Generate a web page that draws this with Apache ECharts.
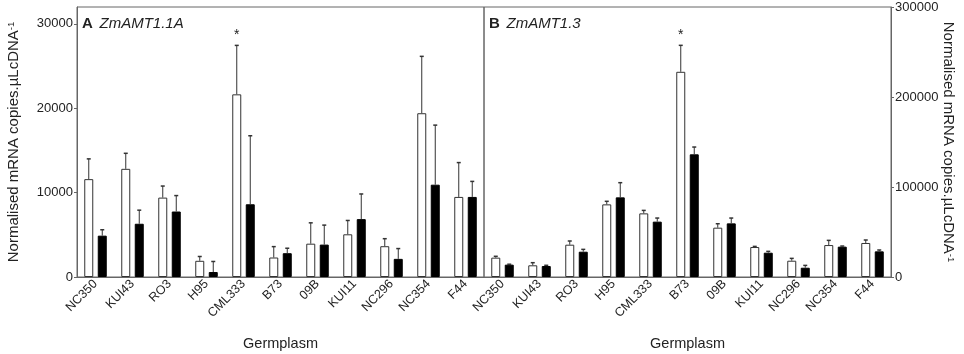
<!DOCTYPE html>
<html>
<head>
<meta charset="utf-8">
<script src="https://cdn.jsdelivr.net/npm/echarts@6/dist/echarts.min.js"></script>
<style>
  html, body { margin: 0; padding: 0; background: #fff; }
  #chart { width: 964px; height: 354px; }
</style>
</head>
<body>
<div id="chart"></div>
<script>
const categories = ['NC350', 'KUI43', 'RO3', 'H95', 'CML333', 'B73', '09B', 'KUI11', 'NC296', 'NC354', 'F44'];

// panel A: ZmAMT1.1A
const aWhite    = [11600, 12820, 9410, 1920, 21650, 2310, 3950, 5060, 3650, 19410, 9490];
const aWhiteErr = [2400, 1840, 1370, 510, 5800, 1290, 2470, 1640, 890, 6740, 4070];
const aBlack    = [4900, 6310, 7760, 590, 8620, 2820, 3840, 6860, 2150, 10940, 9490];
const aBlackErr = [700, 1610, 1890, 1250, 8120, 590, 2310, 2980, 1220, 7060, 1840];
const aStar     = ['CML333'];

// panel B: ZmAMT1.3
const bWhite    = [21500, 13000, 35900, 80700, 70700, 228000, 54800, 33300, 18100, 35500, 37800];
const bWhiteErr = [1500, 2900, 4100, 3400, 3300, 29400, 4400, 700, 2600, 5200, 3300];
const bBlack    = [13700, 12200, 28100, 88500, 61500, 136300, 59600, 27000, 10300, 33700, 28500];
const bBlackErr = [500, 800, 2600, 16300, 4000, 8100, 5900, 1500, 2600, 700, 1500];
const bStar     = ['B73'];

const aTicks = [0, 10000, 20000, 30000];
const bTicks = [0, 100000, 200000, 300000];

const lineCol = '#666';
const textCol = '#222';
const font = 'Liberation Sans, Arial, sans-serif';
const barW = 9;
const shift = 6.75;

function errData(means, errs, dir, stars) {
    return means.map((m, i) => [i, m, m + errs[i], dir, stars.includes(categories[i]) ? 1 : 0]);
}

function renderErr(params, api) {
    const x = api.value(0);
    const lo = api.coord([x, api.value(1)]);
    const hi = api.coord([x, api.value(2)]);
    const cx = lo[0] + api.value(3) * shift;
    const kids = [
        { type: 'line', shape: { x1: cx, y1: lo[1], x2: cx, y2: hi[1] }, style: { stroke: '#333', lineWidth: 1 } },
        { type: 'line', shape: { x1: cx - 2, y1: hi[1], x2: cx + 2, y2: hi[1] }, style: { stroke: '#333', lineWidth: 1.5 } }
    ];
    if (api.value(4) === 1 && api.value(3) < 0) {
        kids.push({ type: 'text', style: { text: '*', x: cx, y: hi[1] - 3, align: 'center', verticalAlign: 'bottom', fontSize: 14, fontFamily: font, fill: textCol } });
    }
    return { type: 'group', children: kids };
}

function xAxisFor(gi) {
    return {
        type: 'category', gridIndex: gi, data: categories,
        name: 'Germplasm', nameLocation: 'middle', nameGap: 59, nameMoveOverlap: false,
        nameTextStyle: { fontSize: 14.5, color: textCol, fontFamily: font },
        axisLine: { lineStyle: { color: lineCol } },
        axisTick: { alignWithLabel: true, length: 3, lineStyle: { color: lineCol } },
        axisLabel: { rotate: 45, interval: 0, fontSize: 12.5, color: textCol, fontFamily: font, margin: 5 }
    };
}

const nameRich = {
    n: { fontSize: 15, color: textCol, fontFamily: font },
    s: { fontSize: 9.5, color: textCol, fontFamily: font, verticalAlign: 'top', padding: [0, 0, 6, 0] }
};
const titleRich = {
    b: { fontSize: 15, fontWeight: 'bold', fill: textCol, fontFamily: font },
    i: { fontSize: 15, fontStyle: 'italic', fill: textCol, fontFamily: font }
};
const plain = v => String(v);

const chart = echarts.init(document.getElementById('chart'));
chart.setOption({
    animation: false,
    textStyle: { fontFamily: font },
    grid: [
        { left: 77, top: 7, width: 407, height: 270, show: true, borderColor: lineCol, borderWidth: 1, containLabel: false, outerBoundsMode: 'none' },
        { left: 484, top: 7, width: 407, height: 270, show: true, borderColor: lineCol, borderWidth: 1, containLabel: false, outerBoundsMode: 'none' }
    ],
    xAxis: [xAxisFor(0), xAxisFor(1)],
    yAxis: [
        {
            type: 'value', gridIndex: 0, min: 0, max: 32000,
            name: '{n|Normalised mRNA copies.µLcDNA}{s|-1}', nameLocation: 'middle', nameGap: 55, nameMoveOverlap: false,
            nameTextStyle: { rich: nameRich },
            axisLine: { show: true, lineStyle: { color: lineCol } },
            axisTick: { show: true, length: 3, customValues: aTicks, lineStyle: { color: lineCol } },
            axisLabel: { customValues: aTicks, formatter: plain, fontSize: 13, color: textCol, margin: 4 },
            splitLine: { show: false }
        },
        {
            type: 'value', gridIndex: 1, position: 'right', min: 0, max: 300000, interval: 100000,
            name: '{n|Normalised mRNA copies.µLcDNA}{s|-1}', nameLocation: 'middle', nameGap: 49, nameRotate: -90, nameMoveOverlap: false,
            nameTextStyle: { rich: nameRich },
            axisLine: { show: true, lineStyle: { color: lineCol } },
            axisTick: { show: true, length: 3, customValues: bTicks, lineStyle: { color: lineCol } },
            axisLabel: { customValues: bTicks, formatter: plain, fontSize: 13, color: textCol, margin: 4 },
            splitLine: { show: false }
        }
    ],
    graphic: [
        { type: 'text', left: 82, top: 16, style: { text: '{b|A}  {i|ZmAMT1.1A}', rich: titleRich } },
        { type: 'text', left: 489, top: 16, style: { text: '{b|B}  {i|ZmAMT1.3}', rich: titleRich } }
    ],
    series: [
        { type: 'bar', xAxisIndex: 0, yAxisIndex: 0, data: aWhite, barWidth: barW, barGap: '50%', itemStyle: { color: '#fff', borderColor: '#333', borderWidth: 1 } },
        { type: 'bar', xAxisIndex: 0, yAxisIndex: 0, data: aBlack, barWidth: barW, barGap: '50%', itemStyle: { color: '#000', borderColor: '#000', borderWidth: 1 } },
        { type: 'bar', xAxisIndex: 1, yAxisIndex: 1, data: bWhite, barWidth: barW, barGap: '50%', itemStyle: { color: '#fff', borderColor: '#333', borderWidth: 1 } },
        { type: 'bar', xAxisIndex: 1, yAxisIndex: 1, data: bBlack, barWidth: barW, barGap: '50%', itemStyle: { color: '#000', borderColor: '#000', borderWidth: 1 } },
        { type: 'custom', xAxisIndex: 0, yAxisIndex: 0, renderItem: renderErr, data: errData(aWhite, aWhiteErr, -1, aStar), z: 5 },
        { type: 'custom', xAxisIndex: 0, yAxisIndex: 0, renderItem: renderErr, data: errData(aBlack, aBlackErr, 1, []), z: 5 },
        { type: 'custom', xAxisIndex: 1, yAxisIndex: 1, renderItem: renderErr, data: errData(bWhite, bWhiteErr, -1, bStar), z: 5 },
        { type: 'custom', xAxisIndex: 1, yAxisIndex: 1, renderItem: renderErr, data: errData(bBlack, bBlackErr, 1, []), z: 5 }
    ]
});
</script>
</body>
</html>
